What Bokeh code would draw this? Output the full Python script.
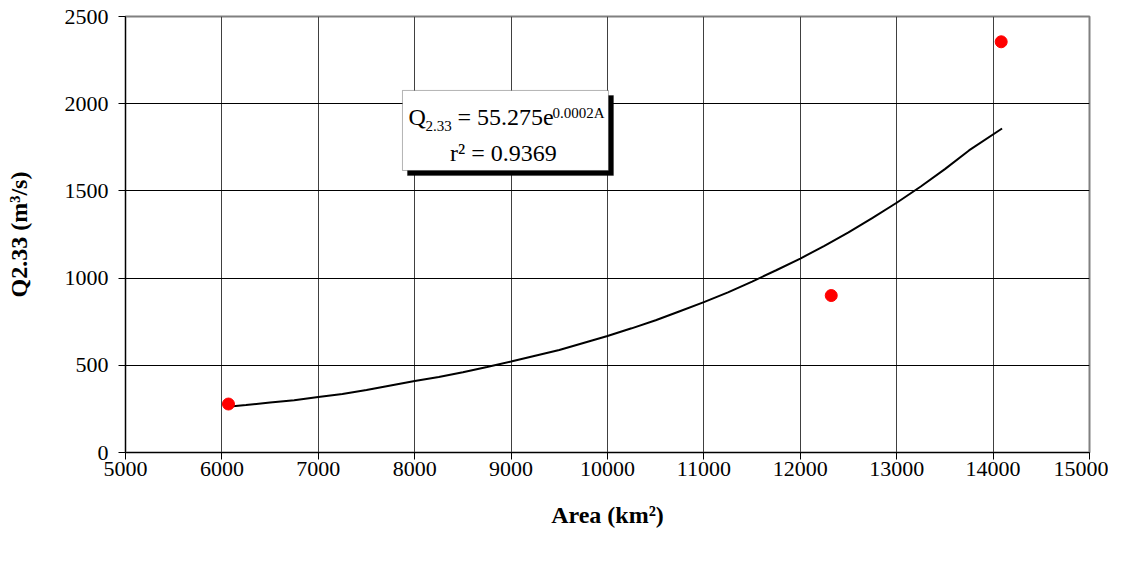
from bokeh.plotting import figure
from bokeh.models import Range1d, FixedTicker, BoxAnnotation, Label
from bokeh.embed import file_html
from bokeh.resources import INLINE

# Observed data points
area = [6068, 12321, 14084]
q233 = [278, 900, 2355]

# Trend line
trend_area = [6060, 6250, 6500, 6750, 7000, 7250, 7500, 7750, 8000, 8250, 8500,
              8750, 9000, 9250, 9500, 9750, 10000, 10250, 10500, 10750, 11000,
              11250, 11500, 11750, 12000, 12250, 12500, 12750, 13000, 13250,
              13500, 13750, 14093]
trend_q = [262, 272, 287, 300, 318, 336, 358, 384, 410, 433, 460,
           490, 522, 555, 588, 628, 668, 712, 758, 810, 862,
           918, 980, 1045, 1112, 1185, 1262, 1345, 1432, 1525,
           1625, 1732, 1858]

x_ticks = [5000, 6000, 7000, 8000, 9000, 10000, 11000, 12000, 13000, 14000, 15000]
y_ticks = [0, 500, 1000, 1500, 2000, 2500]

FONT = "Liberation Serif"

p = figure(frame_width=964, frame_height=436,
           x_range=Range1d(5000, 15000), y_range=Range1d(0, 2500),
           output_backend="svg", toolbar_location=None,
           min_border_left=125, min_border_right=19,
           min_border_top=16, min_border_bottom=100)

p.background_fill_color = "white"
p.border_fill_color = "white"
p.outline_line_color = "#808080"
p.outline_line_width = 2

p.xaxis.ticker = FixedTicker(ticks=x_ticks)
p.yaxis.ticker = FixedTicker(ticks=y_ticks)
p.xgrid.ticker = FixedTicker(ticks=x_ticks)
p.ygrid.ticker = FixedTicker(ticks=y_ticks)
p.xgrid.grid_line_color = "#404040"
p.ygrid.grid_line_color = "black"
p.xgrid.grid_line_width = 1
p.ygrid.grid_line_width = 1

for ax in (p.xaxis, p.yaxis):
    ax.axis_line_color = "black"
    ax.axis_line_width = 1
    ax.major_tick_line_color = "black"
    ax.major_tick_in = 0
    ax.major_tick_out = 7
    ax.minor_tick_line_color = None
    ax.major_label_text_font = FONT
    ax.major_label_text_font_size = "22px"
    ax.major_label_text_color = "black"
    ax.axis_label_text_font = FONT
    ax.axis_label_text_font_size = "24px"
    ax.axis_label_text_font_style = "bold"
    ax.axis_label_text_color = "black"

p.xaxis.axis_label = "Area (km²)"
p.yaxis.axis_label = "Q2.33 (m³/s)"
p.xaxis.major_label_standoff = 2
p.yaxis.major_label_standoff = 10
p.xaxis.axis_label_standoff = 23
p.yaxis.axis_label_standoff = 30

p.line(trend_area, trend_q, line_color="black", line_width=2)
p.scatter(area, q233, size=12, fill_color="red", line_color="red")

# Equation box with shadow
shadow = BoxAnnotation(left=7925, right=10062, top=2047, bottom=1588,
                       fill_color="black", fill_alpha=1, line_color="black")
box = BoxAnnotation(left=7873, right=10010, top=2076, bottom=1617,
                    fill_color="white", fill_alpha=1, line_color="black", line_width=1)
p.add_layout(shadow)
p.add_layout(box)

def lab(x, y, t, size, align="left"):
    l = Label(x=x, y=y, text=t, text_font=FONT, text_font_size=size,
              text_color="black", text_baseline="alphabetic", text_align=align)
    p.add_layout(l)

lab(7935, 1921, "Q", "24px")
lab(8112, 1875, "2.33", "15px")
lab(8444, 1921, "= 55.275e", "24px")
lab(9430, 1944, "0.0002A", "15px")
lab(8921, 1720, "r² = 0.9369", "24px", align="center")

open("out.html", "w").write(file_html(p, INLINE))
